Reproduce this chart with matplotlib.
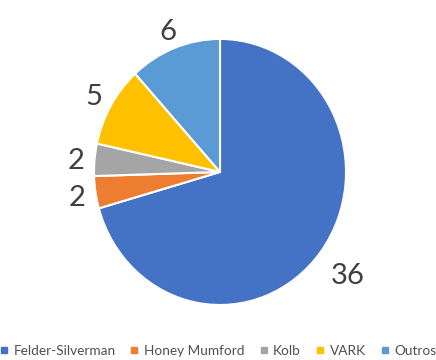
import numpy as np
import matplotlib.pyplot as plt
from matplotlib.lines import Line2D

categories = ['Felder-Silverman', 'Honey Mumford', 'Kolb', 'VARK', 'Outros']
values = [36, 2, 2, 5, 6]
colors = ['#4472C4', '#ED7D31', '#A5A5A5', '#FFC000', '#5B9BD5']
label_dist = [1.27, 1.15, 1.15, 1.16, 1.15]

plt.rcParams['font.family'] = ['Lato', 'DejaVu Sans']

fig = plt.figure(figsize=(4.36, 3.6), dpi=100)
ax = fig.add_axes([0.2156, 0.1528, 0.578, 0.739])

wedges, _ = ax.pie(values, colors=colors, startangle=90, counterclock=False,
                   wedgeprops=dict(edgecolor='white', linewidth=1.5))
for w, v, d in zip(wedges, values, label_dist):
    ang = np.deg2rad((w.theta1 + w.theta2) / 2)
    ax.text(d * np.cos(ang), d * np.sin(ang) - 0.02, str(v), fontsize=21,
            color='#404040', ha='center', va='center')
ax.set_xlim(-1, 1)
ax.set_ylim(-1, 1)
ax.set_aspect('auto')
ax.axis('off')

handles = [Line2D([], [], marker='s', linestyle='', markersize=5,
                  markerfacecolor=c, markeredgecolor=c) for c in colors]
fig.legend(handles, categories, loc='lower center', ncol=5, frameon=False,
           bbox_to_anchor=(0.5, -0.025), fontsize=9.8, labelcolor='#505050',
           handlelength=0.6, handletextpad=0.4, columnspacing=1.1)

fig.savefig('out.png', dpi=100)
